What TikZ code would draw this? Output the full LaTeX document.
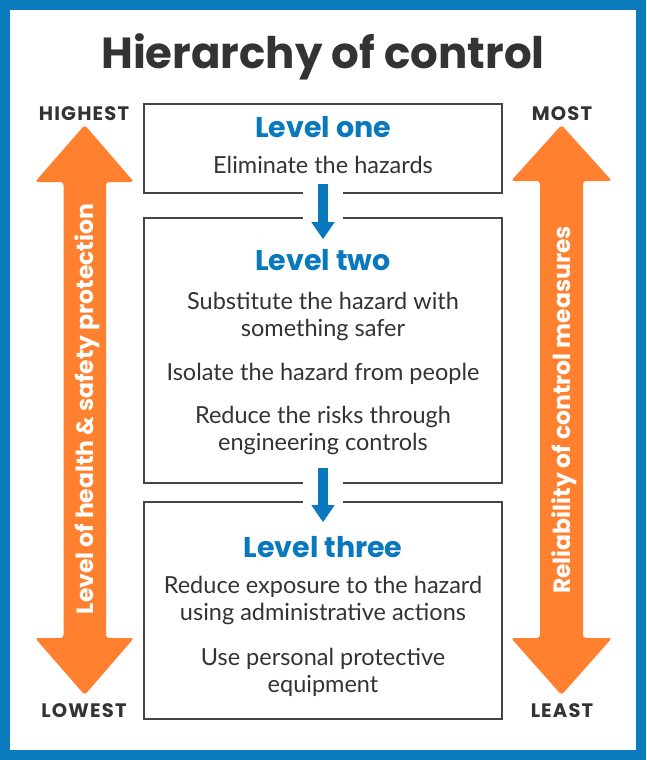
\documentclass[tikz,border=0pt]{standalone}
\usepackage{fontspec}
\setmainfont{Lato}
\newfontfamily\headfont{Poppins}
\newfontfamily\rankfont{Poppins}[LetterSpace=6]
\usetikzlibrary{arrows.meta}

\definecolor{frameblue}{HTML}{0B7BBE}
\definecolor{levelblue}{HTML}{0A78BC}
\definecolor{hazorange}{HTML}{FF812F}
\definecolor{darktext}{HTML}{333333}
\definecolor{boxgray}{HTML}{444444}

\begin{document}
\begin{tikzpicture}%
            [x = 1pt, y = -1pt,
             levelbox/.style = {draw=boxgray, line width=1.6pt, minimum width=358pt, inner sep=0pt},
             leveltitle/.style = {anchor=base, text=levelblue, font=\headfont\bfseries\fontsize{28.5}{32}\selectfont},
             measure/.style = {anchor=base, align=center, text=darktext, font=\fontsize{23.5}{27}\selectfont},
             rank/.style = {anchor=base, text=darktext, font=\rankfont\bfseries\fontsize{19.5}{22}\selectfont},
             sidetext/.style = {anchor=base, rotate=90, text=white, font=\headfont\bfseries\fontsize{23.5}{26}\selectfont},
             flowarrow/.style = {levelblue, line width=10pt, -{Triangle[width=22pt,length=17pt]}}]
            \useasboundingbox (0,0) rectangle (646,760);
            \fill[frameblue] (0,0) rectangle (646,760);
            \fill[white] (10,10) rectangle (636,750);

            \node [anchor=base, text=darktext, font=\headfont\bfseries\fontsize{43.5}{48}\selectfont] (title) at (323,68) {Hierarchy of control};

            % side arrows
            \fill [hazorange, rounded corners=3pt] (84.7,125) -- (134,182) -- (106,182) -- (106,638) -- (134,638) -- (84.7,695)
                  -- (35,638) -- (63.5,638) -- (63.5,182) -- (35,182) -- cycle;
            \fill [hazorange, rounded corners=3pt] (561.5,125) -- (612,181) -- (583,181) -- (583,638) -- (612,638) -- (561.5,695)
                  -- (511,638) -- (540,638) -- (540,181) -- (511,181) -- cycle;
            \node [sidetext] (left label) at (93,409) {Level of health \& safety protection};
            \node [sidetext] (right label) at (570,410) {Reliability of control measures};

            \node [rank] (highest) at (84,120) {HIGHEST};
            \node [rank] (lowest) at (84,717) {LOWEST};
            \node [rank] (most) at (562,120) {MOST};
            \node [rank] (least) at (562,717) {LEAST};

            % levels
            \node [levelbox, minimum height=89pt] (one) at (323,148.5) {};
            \node [levelbox, minimum height=265pt] (two) at (323,350.5) {};
            \node [levelbox, minimum height=217pt] (three) at (323,610.5) {};

            \draw [white, line width=40pt] ([yshift=6pt]one.south) -- ([yshift=-6pt]two.north);
            \draw [white, line width=40pt] ([yshift=6pt]two.south) -- ([yshift=-6pt]three.north);
            \draw [flowarrow] ([yshift=10pt]one.south) -- ([yshift=-22pt]two.north);
            \draw [flowarrow] ([yshift=16pt]two.south) -- ([yshift=-21pt]three.north);

            \node [leveltitle] (one title) at (323,137) {Level one};
            \node [measure] (one a) at (323,173) {Eliminate the hazards};

            \node [leveltitle] (two title) at (323,270) {Level two};
            \node [measure] (two a) at (323,336) {Substitute the hazard with\\something safer};
            \node [measure] (two b) at (323,380) {Isolate the hazard from people};
            \node [measure] (two c) at (323,450) {Reduce the risks through\\engineering controls};

            \node [leveltitle] (three title) at (323,557) {Level three};
            \node [measure] (three a) at (323,620) {Reduce exposure to the hazard\\using administrative actions};
            \node [measure] (three b) at (323,692) {Use personal protective\\equipment};
\end{tikzpicture}
\end{document}
